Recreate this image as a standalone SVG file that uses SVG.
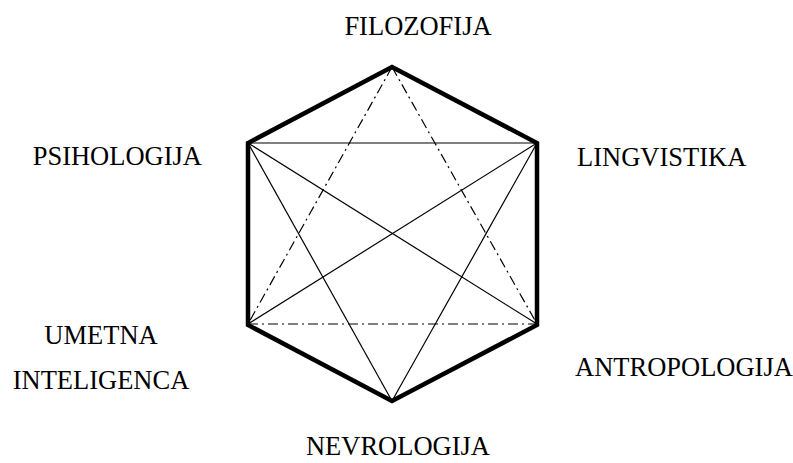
<svg xmlns="http://www.w3.org/2000/svg" width="793" height="463" viewBox="0 0 793 463">
<style>
.lbl{font-family:"Liberation Serif","Times New Roman",serif;font-size:26.5px;fill:#000}
.thin{stroke:#000;stroke-width:1.2;fill:none}
.dd{stroke:#000;stroke-width:1.2;fill:none;stroke-dasharray:10 4 2 4}
.hex{stroke:#000;stroke-width:4.5;fill:none;stroke-linejoin:miter}
</style>
<rect width="793" height="463" fill="#fff"/>
<g id="connectors">
<line class="thin" x1="248" y1="143" x2="537" y2="143"/>
<line class="thin" x1="248" y1="143" x2="537" y2="324"/>
<line class="thin" x1="248" y1="143" x2="392" y2="401"/>
<line class="thin" x1="537" y1="143" x2="248" y2="324"/>
<line class="thin" x1="537" y1="143" x2="392" y2="401"/>
<line class="dd" x1="392" y1="67" x2="248" y2="324"/>
<line class="dd" x1="392" y1="67" x2="537" y2="324"/>
<line class="dd" x1="248" y1="324" x2="537" y2="324"/>
</g>
<g id="hexagon">
<polygon class="hex" points="392,67 537,143 537,325 392,401 248,325 248,143"/>
</g>
<g id="filozofija"><text class="lbl" x="418" y="35" text-anchor="middle">FILOZOFIJA</text></g>
<g id="lingvistika"><text class="lbl" x="577" y="166">LINGVISTIKA</text></g>
<g id="antropologija"><text class="lbl" x="575" y="376">ANTROPOLOGIJA</text></g>
<g id="nevrologija"><text class="lbl" x="398" y="455" text-anchor="middle">NEVROLOGIJA</text></g>
<g id="umetna-inteligenca"><text class="lbl" x="101" y="344" text-anchor="middle">UMETNA</text><text class="lbl" x="101" y="389" text-anchor="middle">INTELIGENCA</text></g>
<g id="psihologija"><text class="lbl" x="202" y="165" text-anchor="end">PSIHOLOGIJA</text></g>
</svg>
